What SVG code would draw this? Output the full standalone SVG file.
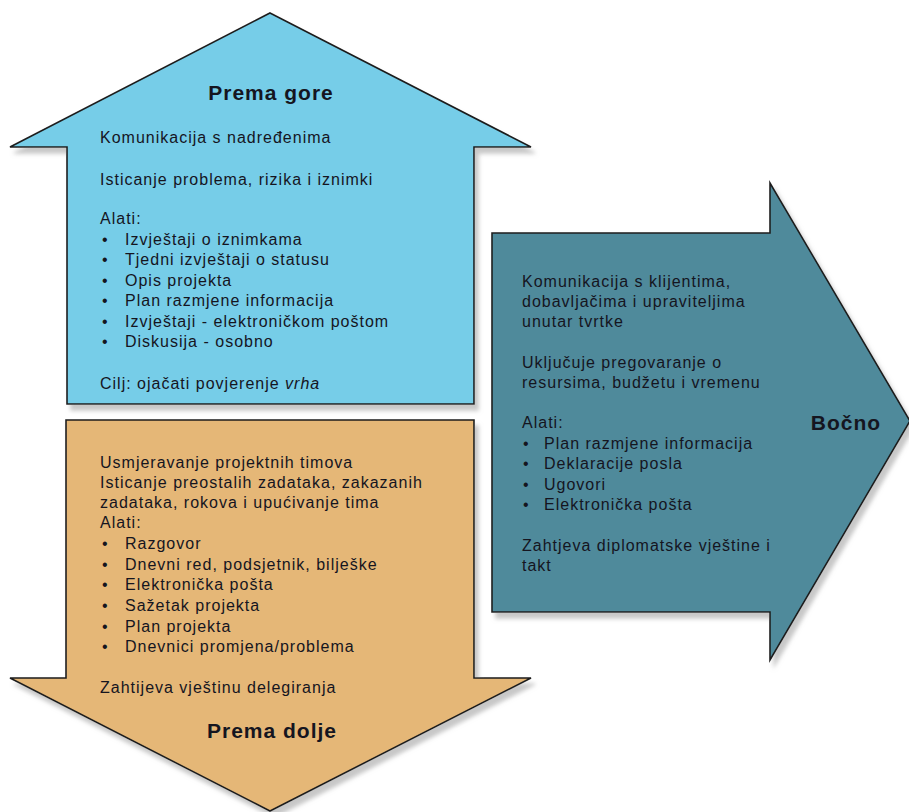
<svg xmlns="http://www.w3.org/2000/svg" width="909" height="812" viewBox="0 0 909 812">
<defs>
<filter id="sh" x="-10%" y="-10%" width="125%" height="125%">
<feDropShadow dx="4" dy="6" stdDeviation="2" flood-color="#9a9a9a" flood-opacity="0.55"/>
</filter>
<style>
.arrow{stroke:#1e1e1e;stroke-width:1.6;stroke-linejoin:miter;filter:url(#sh)}
.up{fill:#76CDE8}
.down{fill:#E5B777}
.side{fill:#4F8A9B}
text{font-family:"Liberation Sans",Arial,sans-serif;fill:#15151f}
.t{font-size:16px;letter-spacing:1px}
.h{font-size:21px;font-weight:bold;letter-spacing:1px}
</style>
</defs>
<rect width="909" height="812" fill="#ffffff"/>
<g id="prema-gore">
<polygon class="arrow up" points="270,13 531,147 474,147 474,404 67,404 67,147 10,147"/>
<text class="h" x="271" y="100" text-anchor="middle">Prema gore</text>
<text class="t" x="100" y="143">Komunikacija s nadređenima</text>
<text class="t" x="100" y="185">Isticanje problema, rizika i iznimki</text>
<text class="t" x="100" y="224">Alati:</text>
<g class="t">
<text class="t" x="102" y="245">•</text><text class="t" x="125" y="245">Izvještaji o iznimkama</text>
<text class="t" x="102" y="265">•</text><text class="t" x="125" y="265">Tjedni izvještaji o statusu</text>
<text class="t" x="102" y="286">•</text><text class="t" x="125" y="286">Opis projekta</text>
<text class="t" x="102" y="306">•</text><text class="t" x="125" y="306">Plan razmjene informacija</text>
<text class="t" x="102" y="327">•</text><text class="t" x="125" y="327">Izvještaji - elektroničkom poštom</text>
<text class="t" x="102" y="347">•</text><text class="t" x="125" y="347">Diskusija - osobno</text>
</g>
<text class="t" x="100" y="389">Cilj: ojačati povjerenje <tspan font-style="italic">vrha</tspan></text>
</g>
<g id="prema-dolje">
<polygon class="arrow down" points="66,420 474,420 474,678 531,678 270,811 10,678 66,678"/>
<text class="t" x="100" y="468">Usmjeravanje projektnih timova</text>
<text class="t" x="100" y="488">Isticanje preostalih zadataka, zakazanih</text>
<text class="t" x="100" y="508">zadataka, rokova i upućivanje tima</text>
<text class="t" x="100" y="528">Alati:</text>
<text class="t" x="102" y="549">•</text><text class="t" x="125" y="549">Razgovor</text>
<text class="t" x="102" y="570">•</text><text class="t" x="125" y="570">Dnevni red, podsjetnik, bilješke</text>
<text class="t" x="102" y="590">•</text><text class="t" x="125" y="590">Elektronička pošta</text>
<text class="t" x="102" y="611">•</text><text class="t" x="125" y="611">Sažetak projekta</text>
<text class="t" x="102" y="632">•</text><text class="t" x="125" y="632">Plan projekta</text>
<text class="t" x="102" y="652">•</text><text class="t" x="125" y="652">Dnevnici promjena/problema</text>
<text class="t" x="100" y="693">Zahtijeva vještinu delegiranja</text>
<text class="h" x="272" y="738" text-anchor="middle">Prema dolje</text>
</g>
<g id="bocno">
<polygon class="arrow side" points="492,233 770,233 770,183 910,421 770,660 770,612 492,612"/>
<text class="t" x="522" y="287">Komunikacija s klijentima,</text>
<text class="t" x="522" y="307">dobavljačima i upraviteljima</text>
<text class="t" x="522" y="327">unutar tvrtke</text>
<text class="t" x="522" y="368">Uključuje pregovaranje o</text>
<text class="t" x="522" y="388">resursima, budžetu i vremenu</text>
<text class="t" x="522" y="428">Alati:</text>
<text class="t" x="523" y="449">•</text><text class="t" x="544" y="449">Plan razmjene informacija</text>
<text class="t" x="523" y="469">•</text><text class="t" x="544" y="469">Deklaracije posla</text>
<text class="t" x="523" y="490">•</text><text class="t" x="544" y="490">Ugovori</text>
<text class="t" x="523" y="510">•</text><text class="t" x="544" y="510">Elektronička pošta</text>
<text class="t" x="522" y="551">Zahtjeva diplomatske vještine i</text>
<text class="t" x="522" y="571">takt</text>
<text class="h" x="846" y="430" text-anchor="middle">Bočno</text>
</g>
</svg>
